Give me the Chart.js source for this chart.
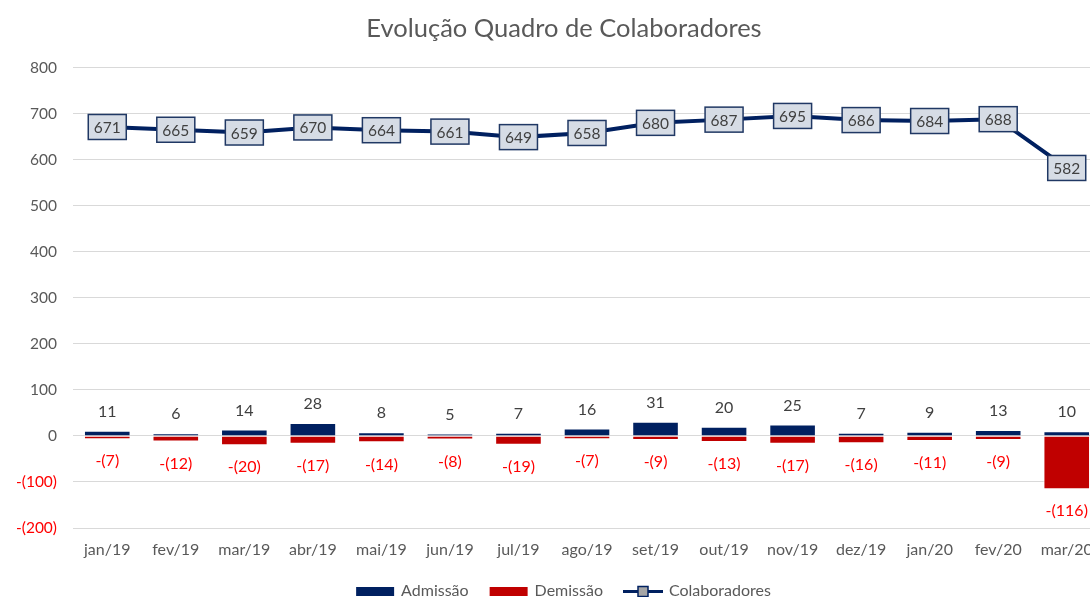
<!DOCTYPE html>
<html lang="pt">
<head>
<meta charset="UTF-8">
<title>Evolução Quadro de Colaboradores</title>
<script src="https://cdn.jsdelivr.net/npm/chart.js"></script>
<style>
    body { margin: 0; background: #fff; overflow: hidden; }
    .wrap { width: 1128px; height: 598px; }
</style>
</head>
<body>
<div class="wrap"><canvas id="chart" width="1128" height="598"></canvas></div>
<script>
const months = ['jan/19', 'fev/19', 'mar/19', 'abr/19', 'mai/19', 'jun/19', 'jul/19', 'ago/19',
    'set/19', 'out/19', 'nov/19', 'dez/19', 'jan/20', 'fev/20', 'mar/20'];
const admissao = [11, 6, 14, 28, 8, 5, 7, 16, 31, 20, 25, 7, 9, 13, 10];
const demissao = [-7, -12, -20, -17, -14, -8, -19, -7, -9, -13, -17, -16, -11, -9, -116];
const colaboradores = [671, 665, 659, 670, 664, 661, 649, 658, 680, 687, 695, 686, 684, 688, 582];

const NAVY = '#002060';
const RED = '#C00000';
const GREY = '#595959';
const FONT = 'Lato, "Open Sans", sans-serif';

function fmt(v) {
    return v < 0 ? '-(' + (-v) + ')' : String(v);
}

// legend swatches
function swatch(draw) {
    const c = document.createElement('canvas');
    c.width = 40; c.height = 12;
    draw(c.getContext('2d'));
    return c;
}
const swAdm = swatch(ctx => { ctx.fillStyle = NAVY; ctx.fillRect(1, 2, 38, 9); });
const swDem = swatch(ctx => { ctx.fillStyle = RED; ctx.fillRect(1, 2, 38, 9); });
const swCol = swatch(ctx => {
    ctx.strokeStyle = NAVY; ctx.lineWidth = 3;
    ctx.beginPath(); ctx.moveTo(0, 6.5); ctx.lineTo(40, 6.5); ctx.stroke();
    ctx.fillStyle = '#A6A6A6'; ctx.fillRect(15, 1.5, 10, 10);
    ctx.lineWidth = 1.5; ctx.strokeRect(15, 1.5, 10, 10);
});

const valueLabels = {
    id: 'valueLabels',
    afterDatasetsDraw(chart) {
        const ctx = chart.ctx;
        ctx.save();
        ctx.textAlign = 'center';
        ctx.textBaseline = 'middle';
        ctx.font = '16px ' + FONT;

        chart.getDatasetMeta(0).data.forEach((el, i) => {
            ctx.fillStyle = '#404040';
            ctx.fillText(fmt(admissao[i]), el.x, el.y - 19);
        });
        chart.getDatasetMeta(1).data.forEach((el, i) => {
            ctx.fillStyle = '#FF0000';
            ctx.fillText(fmt(demissao[i]), el.x, el.y + 22);
        });
        ctx.font = '15.5px ' + FONT;
        chart.getDatasetMeta(2).data.forEach((el, i) => {
            const w = 38, h = 25;
            ctx.fillStyle = '#D6DCE5';
            ctx.fillRect(el.x - w / 2, el.y - h / 2, w, h);
            ctx.strokeStyle = '#203864';
            ctx.lineWidth = 1.5;
            ctx.strokeRect(el.x - w / 2, el.y - h / 2, w, h);
            ctx.fillStyle = '#404040';
            ctx.fillText(fmt(colaboradores[i]), el.x, el.y + 1);
        });
        ctx.restore();
    }
};

new Chart(document.getElementById('chart'), {
    data: {
        labels: months,
        datasets: [
            {
                type: 'bar', label: 'Admissão', data: admissao,
                backgroundColor: NAVY, borderColor: '#ffffff', borderWidth: 1,
                stack: 's', order: 1, pointStyle: swAdm
            },
            {
                type: 'bar', label: 'Demissão', data: demissao,
                backgroundColor: RED, borderColor: '#ffffff', borderWidth: 1,
                stack: 's', order: 1, pointStyle: swDem
            },
            {
                type: 'line', label: 'Colaboradores', data: colaboradores,
                borderColor: NAVY, borderWidth: 4, pointRadius: 0, tension: 0,
                order: 0, pointStyle: swCol
            }
        ]
    },
    options: {
        responsive: false,
        animation: false,
        layout: { padding: { left: 0, right: 0, top: 4, bottom: -11 } },
        datasets: { bar: { categoryPercentage: 1, barPercentage: 0.68 } },
        plugins: {
            title: {
                display: true,
                text: 'Evolução Quadro de Colaboradores',
                color: GREY,
                font: { family: FONT, size: 25.5, weight: 'normal' },
                padding: { top: 9, bottom: 24 }
            },
            legend: {
                position: 'bottom',
                labels: {
                    usePointStyle: true,
                    pointStyleWidth: 36,
                    color: GREY,
                    padding: 22,
                    font: { family: FONT, size: 16 },
                    sort: (a, b) => a.datasetIndex - b.datasetIndex
                }
            },
            tooltip: { enabled: false }
        },
        scales: {
            x: {
                stacked: true,
                afterFit(scale) { scale.height = 33; },
                grid: { display: false },
                border: { display: false },
                ticks: { color: GREY, font: { family: FONT, size: 16 }, padding: 4, maxRotation: 0 }
            },
            y: {
                stacked: true,
                min: -200, max: 800,
                afterFit(scale) { scale.width = 73; },
                grid: { color: '#D9D9D9', drawTicks: false },
                border: { display: false },
                ticks: {
                    stepSize: 100,
                    padding: 16,
                    callback: v => fmt(v),
                    color: c => c.tick.value < 0 ? '#FF0000' : GREY,
                    font: { family: FONT, size: 15.5 }
                }
            },
            // empty right-hand space, outside the visible window
            yRight: {
                position: 'right',
                min: -200, max: 800,
                afterFit(scale) { scale.width = 27; },
                grid: { display: false },
                border: { display: false },
                ticks: { display: false }
            }
        }
    },
    plugins: [valueLabels]
});
</script>
</body>
</html>
